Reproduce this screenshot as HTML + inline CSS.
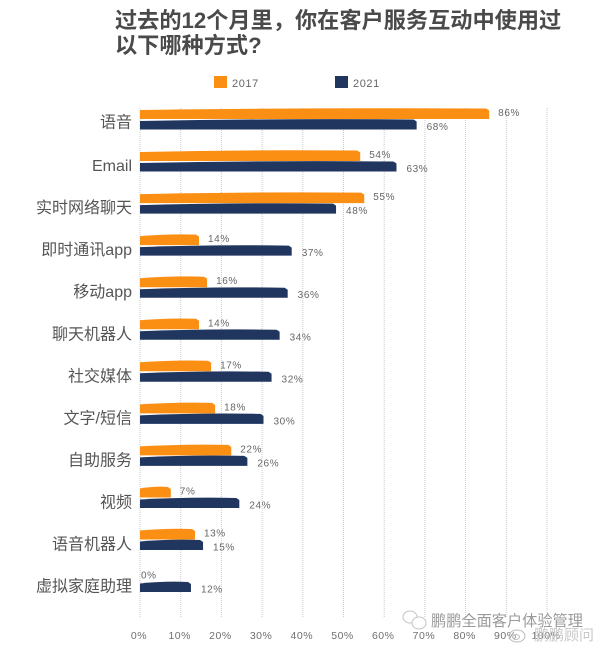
<!DOCTYPE html>
<html lang="zh">
<head>
<meta charset="utf-8">
<title>过去的12个月里，你在客户服务互动中使用过以下哪种方式?</title>
<style>
html,body{margin:0;padding:0;background:#fff;width:600px;height:648px;overflow:hidden}
svg{display:block;filter:blur(.35px)}
text{font-family:"Liberation Sans","Noto Sans CJK SC",sans-serif}
</style>
</head>
<body>
<svg id="chart" xmlns="http://www.w3.org/2000/svg" width="600" height="648" viewBox="0 0 600 648">
  <g fill="#4a4a4a" font-weight="700" font-size="22.2">
    <text x="115" y="28">过去的12个月里，你在客户服务互动中使用过</text>
    <text x="115" y="53">以下哪种方式?</text>
  </g>
  <g font-size="11" fill="#666" letter-spacing=".6">
    <rect x="214" y="76" width="13" height="12" fill="#fb8f14"/>
    <text x="232" y="87">2017</text>
    <rect x="335" y="76" width="13" height="12" fill="#21365f"/>
    <text x="353" y="87">2021</text>
  </g>
  <g id="grid"></g>
  <g id="bars"></g>
  <g id="cats"></g>
  <g id="vals"></g>
  <g id="ticks"></g>
  <g>
    <g fill="#fff" stroke="#c4c4c4" stroke-width="1">
      <ellipse cx="410" cy="617" rx="7" ry="6"/>
      <ellipse cx="419" cy="623" rx="7" ry="6"/>
    </g>
    <text x="431" y="626" font-size="15.2" fill="#9a9a9a">鹏鹏全面客户体验管理</text>
    <g fill="none" stroke="#bbb">
      <ellipse cx="517" cy="636" rx="8" ry="6"/>
      <ellipse cx="516" cy="637" rx="3.5" ry="2.5"/>
    </g>
    <text x="534" y="640" font-size="15" fill="#c8c8c8">鹏鹏顾问</text>
  </g>
</svg>
<script>
const categories = ["语音","Email","实时网络聊天","即时通讯app","移动app","聊天机器人","社交媒体","文字/短信","自助服务","视频","语音机器人","虚拟家庭助理"];
const values2017 = [86,54,55,14,16,14,17,18,22,7,13,0];
const values2021 = [68,63,48,37,36,34,32,30,26,24,15,12];
const tickValues = [0,10,20,30,40,50,60,70,80,90,100];

const NS = "http://www.w3.org/2000/svg";
const BAR_X0 = 140;
const gridScale = v => 140 + v * 4.07;
const barScale = v => 142.6 + v * 4.03;
const rowY = i => 114 + i * 42.05;

function mk(parent, tag, attrs, txt) {
  const el = document.createElementNS(NS, tag);
  for (const k in attrs) el.setAttribute(k, attrs[k]);
  if (txt !== undefined) el.textContent = txt;
  parent.appendChild(el);
  return el;
}
const gridG = document.getElementById('grid');


const barsG = document.getElementById('bars');


const catsG = document.getElementById('cats');


const valsG = document.getElementById('vals');


const ticksG = document.getElementById('ticks');



tickValues.forEach(t => {
  const x = gridScale(t);
  const line = mk(gridG, 'line', {x1:x, x2:x, y1:108, y2:618, stroke:'#c9c9c9', 'stroke-width':1, 'stroke-dasharray':'1 1'});
  
  
  const label = mk(ticksG, 'text', {x:x - 1, y:639, 'text-anchor':'middle', 'font-size':10.5, fill:'#707070', 'letter-spacing':'.5'}, t + '%');
  
  
});

function barPath(v, top, bot, bulge) {
  const x1 = barScale(v);
  return 'M' + BAR_X0 + ' ' + bot + 'L' + BAR_X0 + ' ' + (top + 1.5) +
    'Q' + ((BAR_X0 + x1) / 2) + ' ' + (top - bulge) + ' ' + (x1 - 3) + ' ' + top +
    'L' + x1 + ' ' + (top + 2) +
    'L' + x1 + ' ' + bot + 'Z';
}

categories.forEach((c, i) => {
  const y = rowY(i);
  const y2 = y + 11;
  const cat = mk(catsG, 'text', {x:132, y:y + (i === 0 ? 13.5 : 15), 'text-anchor':'end', 'font-size':16, fill:'#555'}, c);
  
  

  if (values2021[i] > 0) {
    const b = mk(barsG, 'path', {d:barPath(values2021[i], y2 - 5.5, y2 + 4.5, 1.2), fill:'#21365f'});
    
    
  }
  if (values2017[i] > 0) {
    const b = mk(barsG, 'path', {d:barPath(values2017[i], y - 5.5, y + 5, 1), fill:'#fb8f14'});
    
    
  }
  const a = mk(valsG, 'text', {x:values2017[i] === 0 ? 141 : barScale(values2017[i]) + 9, y:y + 2, 'font-size':10, fill:'#666', 'letter-spacing':'.6'}, values2017[i] + '%');
  
  
  const d = mk(valsG, 'text', {x:barScale(values2021[i]) + 10, y:y2 + 5, 'font-size':10, fill:'#666', 'letter-spacing':'.6'}, values2021[i] + '%');
  
  
});
</script>
</body>
</html>
